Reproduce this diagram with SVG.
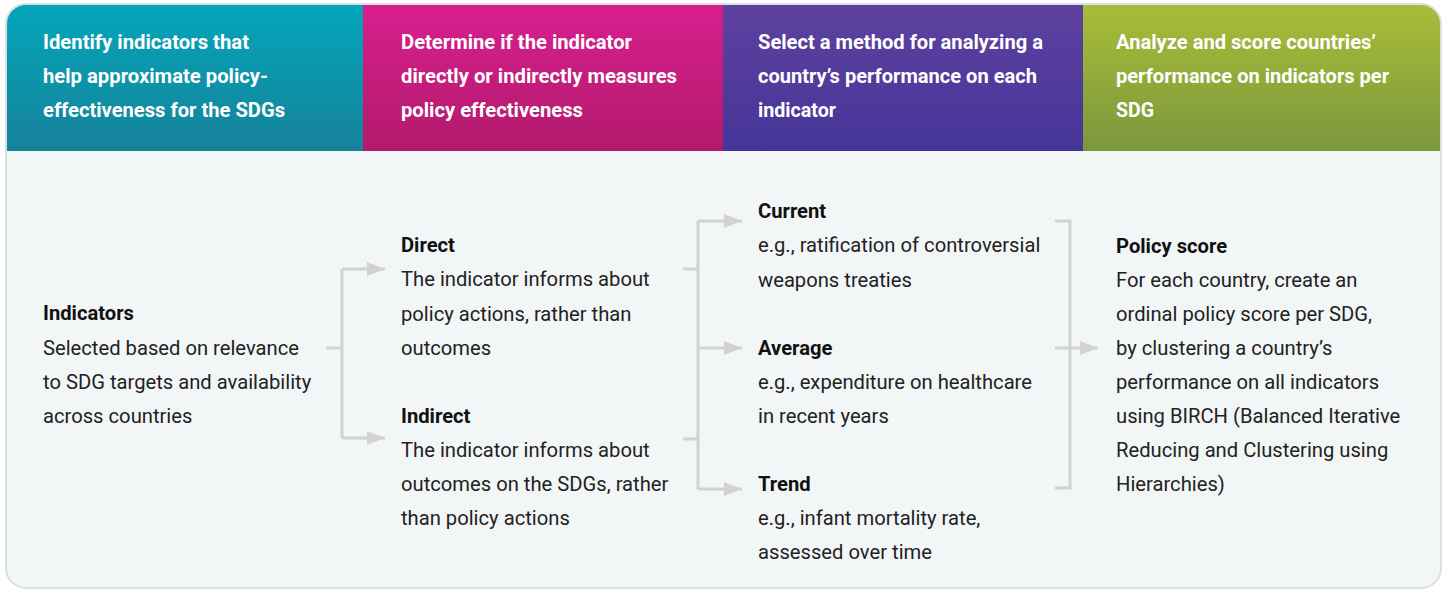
<svg xmlns="http://www.w3.org/2000/svg" width="1447" height="589" viewBox="0 0 1447 589">
<style>
.h{font-family:Roboto,"Liberation Sans",sans-serif;font-weight:700;font-size:21px;fill:#ffffff}
.b{font-family:Roboto,"Liberation Sans",sans-serif;font-size:20.2px;fill:#222222}
.bt{font-family:Roboto,"Liberation Sans",sans-serif;font-size:20.2px;font-weight:700;fill:#111111}
.c{fill:none;stroke:#d2d2d2;stroke-width:3}
</style>
<defs>
<linearGradient id="gTeal" x1="0" y1="0" x2="0" y2="1"><stop offset="0" stop-color="#03a6ba"/><stop offset="1" stop-color="#16829a"/></linearGradient>
<linearGradient id="gMag" x1="0" y1="0" x2="0" y2="1"><stop offset="0" stop-color="#d81f8e"/><stop offset="1" stop-color="#b21a6c"/></linearGradient>
<linearGradient id="gPur" x1="0" y1="0" x2="0" y2="1"><stop offset="0" stop-color="#5e419f"/><stop offset="1" stop-color="#463599"/></linearGradient>
<linearGradient id="gGrn" x1="0" y1="0" x2="0" y2="1"><stop offset="0" stop-color="#a9bd38"/><stop offset="1" stop-color="#7b973c"/></linearGradient>
<clipPath id="box"><rect x="6" y="4" width="1435" height="584" rx="20" ry="20"/></clipPath>
<marker id="ah" markerWidth="18" markerHeight="14" refX="18" refY="7" orient="auto" markerUnits="userSpaceOnUse"><path d="M0,0 L18,7 L0,14 Z" fill="#d2d2d2"/></marker>
</defs>
<rect x="6" y="4" width="1435" height="584" rx="20" ry="20" fill="#f3f6f7"/>
<g clip-path="url(#box)">
<rect x="6" y="4" width="357" height="147" fill="url(#gTeal)"/>
<rect x="363" y="4" width="360" height="147" fill="url(#gMag)"/>
<rect x="723" y="4" width="360" height="147" fill="url(#gPur)"/>
<rect x="1083" y="4" width="358" height="147" fill="url(#gGrn)"/>
</g>
<rect x="6" y="4" width="1435" height="584" rx="20" ry="20" fill="none" stroke="#dcdfe0" stroke-width="2"/>
<g id="header1"><text class="h" x="43" y="49" textLength="206" lengthAdjust="spacingAndGlyphs">Identify indicators that</text><text class="h" x="43" y="83" textLength="225" lengthAdjust="spacingAndGlyphs">help approximate policy-</text><text class="h" x="43" y="117" textLength="242" lengthAdjust="spacingAndGlyphs">effectiveness for the SDGs</text></g>
<g id="header2"><text class="h" x="401" y="49" textLength="231" lengthAdjust="spacingAndGlyphs">Determine if the indicator</text><text class="h" x="401" y="83" textLength="276" lengthAdjust="spacingAndGlyphs">directly or indirectly measures</text><text class="h" x="401" y="117" textLength="182" lengthAdjust="spacingAndGlyphs">policy effectiveness</text></g>
<g id="header3"><text class="h" x="758" y="49" textLength="285" lengthAdjust="spacingAndGlyphs">Select a method for analyzing a</text><text class="h" x="758" y="83" textLength="279" lengthAdjust="spacingAndGlyphs">country’s performance on each</text><text class="h" x="758" y="117" textLength="78" lengthAdjust="spacingAndGlyphs">indicator</text></g>
<g id="header4"><text class="h" x="1116" y="49" textLength="260" lengthAdjust="spacingAndGlyphs">Analyze and score countries’</text><text class="h" x="1116" y="83" textLength="273" lengthAdjust="spacingAndGlyphs">performance on indicators per</text><text class="h" x="1116" y="117" textLength="38" lengthAdjust="spacingAndGlyphs">SDG</text></g>
<g id="connectors">
<path class="c" d="M326,348 H342 M342,269 V438"/>
<path class="c" d="M342,269 H385" marker-end="url(#ah)"/>
<path class="c" d="M342,438 H385" marker-end="url(#ah)"/>
<path class="c" d="M683,269 H698 M683,439 H698 M698,221 V489"/>
<path class="c" d="M698,221 H742" marker-end="url(#ah)"/>
<path class="c" d="M698,348 H742" marker-end="url(#ah)"/>
<path class="c" d="M698,489 H742" marker-end="url(#ah)"/>
<path class="c" d="M1055,221 H1070 V488 H1055"/>
<path class="c" d="M1055,348 H1098" marker-end="url(#ah)"/>
</g>
<g id="indicators"><text class="bt" x="43" y="320">Indicators</text><text class="b" x="43" y="355">Selected based on relevance</text><text class="b" x="43" y="389">to SDG targets and availability</text><text class="b" x="43" y="423">across countries</text></g>
<g id="direct"><text class="bt" x="401" y="252">Direct</text><text class="b" x="401" y="286">The indicator informs about</text><text class="b" x="401" y="321">policy actions, rather than</text><text class="b" x="401" y="355">outcomes</text></g>
<g id="indirect"><text class="bt" x="401" y="423">Indirect</text><text class="b" x="401" y="457">The indicator informs about</text><text class="b" x="401" y="491">outcomes on the SDGs, rather</text><text class="b" x="401" y="525">than policy actions</text></g>
<g id="current"><text class="bt" x="758" y="218">Current</text><text class="b" x="758" y="252">e.g., ratification of controversial</text><text class="b" x="758" y="287">weapons treaties</text></g>
<g id="average"><text class="bt" x="758" y="355">Average</text><text class="b" x="758" y="389">e.g., expenditure on healthcare</text><text class="b" x="758" y="423">in recent years</text></g>
<g id="trend"><text class="bt" x="758" y="491">Trend</text><text class="b" x="758" y="525">e.g., infant mortality rate,</text><text class="b" x="758" y="559">assessed over time</text></g>
<g id="policyscore"><text class="bt" x="1116" y="253">Policy score</text><text class="b" x="1116" y="287">For each country, create an</text><text class="b" x="1116" y="321">ordinal policy score per SDG,</text><text class="b" x="1116" y="355">by clustering a country’s</text><text class="b" x="1116" y="389">performance on all indicators</text><text class="b" x="1116" y="423">using BIRCH (Balanced Iterative</text><text class="b" x="1116" y="457">Reducing and Clustering using</text><text class="b" x="1116" y="491">Hierarchies)</text></g>
</svg>
